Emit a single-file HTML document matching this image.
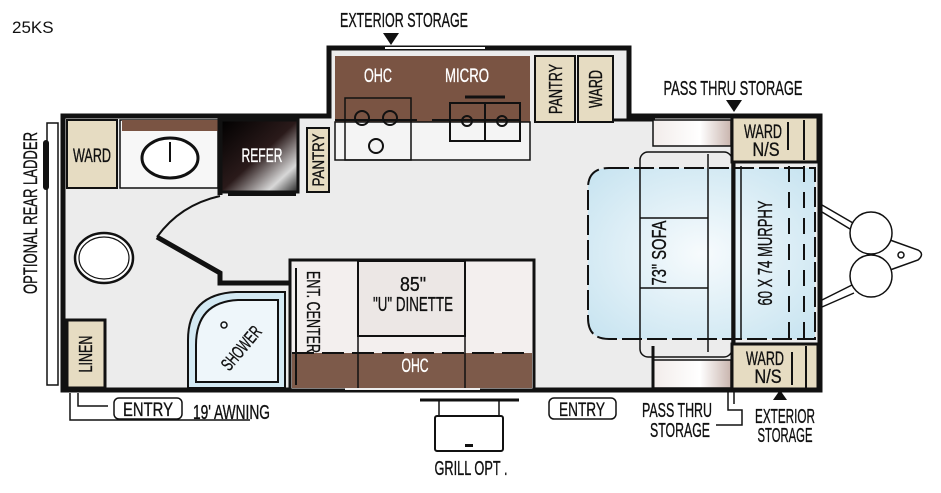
<!DOCTYPE html>
<html><head><meta charset="utf-8"><style>
html,body{margin:0;padding:0;background:#fff;}
svg{display:block;}
text{font-family:"Liberation Sans Narrow","Liberation Sans",sans-serif;fill:#111;stroke:#111;stroke-width:0.35;}
text.w{fill:#fff;stroke:#fff;}
</style></head><body>
<svg width="941" height="493" viewBox="0 0 941 493" xmlns="http://www.w3.org/2000/svg">
<defs>
<linearGradient id="ref" x1="0" y1="0" x2="1" y2="1"><stop offset="0" stop-color="#000"/><stop offset="0.5" stop-color="#2a1a1a"/><stop offset="0.8" stop-color="#d8d8d8"/><stop offset="1" stop-color="#222"/></linearGradient>
<radialGradient id="bed" cx="0.5" cy="0.5" r="0.7"><stop offset="0" stop-color="#f7fbfd"/><stop offset="1" stop-color="#c6e3f0"/></radialGradient>
<linearGradient id="cush" x1="0" y1="0" x2="1" y2="0"><stop offset="0" stop-color="#f2ecea"/><stop offset="0.6" stop-color="#fff"/><stop offset="1" stop-color="#c9b5ae"/></linearGradient>
</defs>
<text x="12" y="33" font-size="17" font-family="Liberation Sans" style="stroke-width:0">25KS</text>
<rect x="63" y="116" width="757" height="274" fill="#ececec"/>
<rect x="329" y="50" width="300" height="70" fill="#ececec"/>
<rect x="47" y="123" width="11" height="262" fill="#fff" stroke="#111" stroke-width="1.5"/>
<rect x="43" y="140" width="6" height="50" rx="3" fill="#111"/>
<text transform="translate(37,213) rotate(-90)" font-size="19" text-anchor="middle" textLength="162" lengthAdjust="spacingAndGlyphs">OPTIONAL REAR LADDER</text>
<path d="M63 116 H329 V48 H629 V116 H820 V390 H63 Z" fill="none" stroke="#111" stroke-width="5"/>
<line x1="385" y1="48" x2="485" y2="48" stroke="#fff" stroke-width="2"/>
<rect x="67" y="120" width="50" height="68" fill="#e6dcc2" stroke="#111" stroke-width="2"/>
<text x="92" y="162" font-size="19" text-anchor="middle" textLength="38" lengthAdjust="spacingAndGlyphs">WARD</text>
<rect x="120" y="120" width="98" height="68" fill="#f7f7f7" stroke="#111" stroke-width="1.5"/>
<rect x="122" y="120" width="96" height="11" fill="#7a5443"/>
<ellipse cx="170" cy="158" rx="28" ry="20" fill="#fff" stroke="#111" stroke-width="3"/>
<line x1="170" y1="142" x2="170" y2="162" stroke="#111" stroke-width="2"/>
<rect x="220" y="120" width="78" height="72" fill="url(#ref)" stroke="#111" stroke-width="3"/>
<text class="w" x="262" y="162" font-size="19" text-anchor="middle" textLength="41" lengthAdjust="spacingAndGlyphs">REFER</text>
<rect x="228" y="192" width="68" height="4" fill="#111"/>
<rect x="307" y="128" width="22" height="64" fill="#e6dcc2" stroke="#111" stroke-width="2"/>
<text transform="translate(324,160) rotate(-90)" font-size="17" text-anchor="middle" textLength="53" lengthAdjust="spacingAndGlyphs">PANTRY</text>
<line x1="220" y1="116" x2="220" y2="195" stroke="#111" stroke-width="5"/>
<path d="M220 196 Q180 205 157 237" fill="none" stroke="#111" stroke-width="2"/>
<path d="M157 237 L220 273 V283 H290" fill="none" stroke="#111" stroke-width="5"/>
<ellipse cx="104" cy="258" rx="29" ry="25" fill="#fff" stroke="#111" stroke-width="2.5"/>
<ellipse cx="104" cy="258" rx="25" ry="21" fill="none" stroke="#111" stroke-width="1.2"/>
<rect x="67" y="320" width="38" height="68" fill="#e6dcc2" stroke="#111" stroke-width="3"/>
<text transform="translate(92,354) rotate(-90)" font-size="18" text-anchor="middle" textLength="37" lengthAdjust="spacingAndGlyphs">LINEN</text>
<path d="M188 388 V340 Q188 294 236 292 H285 V388 Z" fill="#d3e9f3" stroke="#111" stroke-width="2"/>
<path d="M196 382 V345 Q196 302 238 300 H278 V382 Z" fill="#eef6fa" stroke="#111" stroke-width="2"/>
<circle cx="224" cy="325" r="3" fill="none" stroke="#111" stroke-width="1.5"/>
<text transform="translate(246,352) rotate(-50)" font-size="18" text-anchor="middle" textLength="52" lengthAdjust="spacingAndGlyphs">SHOWER</text>
<rect x="290" y="260" width="244" height="130" fill="#f3efee" stroke="#111" stroke-width="3"/>
<rect x="292" y="353" width="240" height="35" fill="#7d5a4a"/>
<line x1="292" y1="353" x2="532" y2="353" stroke="#111" stroke-width="2" stroke-dasharray="22,8"/>
<rect x="358" y="261" width="107" height="75" fill="#ece7e5" stroke="#111" stroke-width="2"/>
<line x1="358" y1="336" x2="358" y2="388" stroke="#111" stroke-width="1.5"/>
<line x1="465" y1="336" x2="465" y2="388" stroke="#111" stroke-width="1.5"/>
<text x="413" y="291" font-size="20" text-anchor="middle" textLength="26" lengthAdjust="spacingAndGlyphs">85"</text>
<text x="413" y="311" font-size="20" text-anchor="middle" textLength="80" lengthAdjust="spacingAndGlyphs">"U" DINETTE</text>
<text class="w" x="415" y="372" font-size="19" text-anchor="middle" textLength="27" lengthAdjust="spacingAndGlyphs">OHC</text>
<text transform="translate(307,271) rotate(90)" font-size="18" textLength="82" lengthAdjust="spacingAndGlyphs">ENT. CENTER</text>
<line x1="296" y1="268" x2="296" y2="385" stroke="#111" stroke-width="2"/>
<line x1="345" y1="389" x2="480" y2="389" stroke="#eee" stroke-width="2"/>
<rect x="335" y="56" width="195" height="68" fill="#7a5443"/>
<rect x="335" y="122" width="195" height="38" fill="#f4f4f4" stroke="#111" stroke-width="1.5"/>
<text class="w" x="378" y="82" font-size="19" text-anchor="middle" textLength="28" lengthAdjust="spacingAndGlyphs">OHC</text>
<text class="w" x="467" y="82" font-size="19" text-anchor="middle" textLength="44" lengthAdjust="spacingAndGlyphs">MICRO</text>
<rect x="345" y="98" width="66" height="62" fill="none" stroke="#111" stroke-width="1.5"/>
<line x1="335" y1="120" x2="417" y2="120" stroke="#111" stroke-width="2"/>
<line x1="432" y1="120" x2="520" y2="120" stroke="#111" stroke-width="2"/>
<g fill="none" stroke="#111" stroke-width="2">
<circle cx="362" cy="118" r="7"/><circle cx="390" cy="118" r="7"/><circle cx="376" cy="146" r="7"/>
<rect x="450" y="103" width="70" height="38"/>
<line x1="485" y1="103" x2="485" y2="141"/>
<circle cx="467" cy="121" r="5"/><circle cx="502" cy="121" r="5"/>
<line x1="465" y1="97" x2="505" y2="97" stroke-width="3"/>
</g>
<rect x="535" y="56" width="40" height="66" fill="#e6dcc2" stroke="#111" stroke-width="2"/>
<text transform="translate(562,89) rotate(-90)" font-size="18" text-anchor="middle" textLength="50" lengthAdjust="spacingAndGlyphs">PANTRY</text>
<rect x="578" y="56" width="35" height="66" fill="#e6dcc2" stroke="#111" stroke-width="2"/>
<text transform="translate(602,89) rotate(-90)" font-size="18" text-anchor="middle" textLength="38" lengthAdjust="spacingAndGlyphs">WARD</text>
<line x1="613" y1="120" x2="655" y2="120" stroke="#111" stroke-width="3"/>
<rect x="653" y="120" width="78" height="26" fill="url(#cush)" stroke="#111" stroke-width="1.5"/>
<rect x="653" y="360" width="78" height="28" fill="url(#cush)" stroke="#111" stroke-width="1.5"/>
<line x1="653" y1="346" x2="653" y2="390" stroke="#111" stroke-width="3"/>
<path d="M609 168 H815 V339 H609 Q588 339 588 318 V188 Q588 168 609 168 Z" fill="url(#bed)" stroke="#111" stroke-width="2" stroke-dasharray="20,5"/>
<rect x="640" y="152" width="92" height="205" rx="8" fill="none" stroke="#111" stroke-width="1.5"/>
<line x1="640" y1="218" x2="708" y2="218" stroke="#111" stroke-width="1.5"/>
<line x1="640" y1="288" x2="708" y2="288" stroke="#111" stroke-width="1.5"/>
<path d="M708 154 V352" stroke="#111" stroke-width="1.5"/>
<text transform="translate(666,253) rotate(-90)" font-size="20" text-anchor="middle" textLength="65" lengthAdjust="spacingAndGlyphs">73"  SOFA</text>
<line x1="734" y1="162" x2="734" y2="345" stroke="#111" stroke-width="3"/>
<line x1="741" y1="166" x2="741" y2="340" stroke="#111" stroke-width="1.5"/>
<line x1="789" y1="166" x2="789" y2="340" stroke="#111" stroke-width="2" stroke-dasharray="16,10"/>
<line x1="804" y1="166" x2="804" y2="340" stroke="#111" stroke-width="2" stroke-dasharray="16,10"/>
<text transform="translate(772,253) rotate(-90)" font-size="20" text-anchor="middle" textLength="105" lengthAdjust="spacingAndGlyphs">60 X 74 MURPHY</text>
<rect x="732" y="117" width="86" height="45" fill="#e6dcc2" stroke="#111" stroke-width="3"/>
<text x="763" y="138" font-size="19" text-anchor="middle" textLength="38" lengthAdjust="spacingAndGlyphs">WARD</text>
<text x="766" y="156" font-size="19" text-anchor="middle" textLength="27" lengthAdjust="spacingAndGlyphs">N/S</text>
<line x1="788" y1="122" x2="788" y2="150" stroke="#111" stroke-width="2"/>
<line x1="804" y1="120" x2="804" y2="160" stroke="#111" stroke-width="2"/>
<rect x="732" y="344" width="86" height="45" fill="#e6dcc2" stroke="#111" stroke-width="3"/>
<text x="765" y="365" font-size="19" text-anchor="middle" textLength="38" lengthAdjust="spacingAndGlyphs">WARD</text>
<text x="768" y="383" font-size="19" text-anchor="middle" textLength="27" lengthAdjust="spacingAndGlyphs">N/S</text>
<line x1="792" y1="352" x2="792" y2="385" stroke="#111" stroke-width="2"/>
<line x1="806" y1="346" x2="806" y2="388" stroke="#111" stroke-width="2"/>
<g fill="none" stroke="#111" stroke-width="1.5">
<path d="M822 205 L853 223 M822 212 L850 229"/>
<path d="M822 300 L852 285 M822 307 L854 293"/>
<path d="M890 240 L918 250 Q925 254 918 260 L890 270"/>
<circle cx="901" cy="255" r="3"/>
</g>
<circle cx="871" cy="233" r="21" fill="#fff" stroke="#111" stroke-width="1.5"/>
<circle cx="871" cy="276" r="21" fill="#fff" stroke="#111" stroke-width="1.5"/>
<text x="404" y="27" font-size="20" text-anchor="middle" textLength="128" lengthAdjust="spacingAndGlyphs">EXTERIOR  STORAGE</text>
<path d="M383 33 H399 L391 45 Z" fill="#111"/>
<text x="733" y="95" font-size="20" text-anchor="middle" textLength="139" lengthAdjust="spacingAndGlyphs">PASS THRU STORAGE</text>
<path d="M726 100 H742 L734 112 Z" fill="#111"/>
<path d="M70 393 V420 H250 M78 393 V406 H108" fill="none" stroke="#111" stroke-width="1.5"/>
<rect x="114" y="398" width="68" height="21" rx="5" fill="#fff" stroke="#111" stroke-width="1.5"/>
<text x="148" y="416" font-size="19" text-anchor="middle" textLength="50" lengthAdjust="spacingAndGlyphs">ENTRY</text>
<text x="193" y="419" font-size="20" textLength="77" lengthAdjust="spacingAndGlyphs">19' AWNING</text>
<line x1="420" y1="400" x2="519" y2="400" stroke="#111" stroke-width="3"/>
<line x1="439" y1="400" x2="439" y2="416" stroke="#111" stroke-width="1.5"/>
<line x1="499" y1="400" x2="499" y2="416" stroke="#111" stroke-width="1.5"/>
<rect x="435" y="416" width="68" height="35" rx="2" fill="#fff" stroke="#111" stroke-width="2"/>
<rect x="465" y="444" width="8" height="3" fill="#111"/>
<text x="471" y="475" font-size="20" text-anchor="middle" textLength="73" lengthAdjust="spacingAndGlyphs">GRILL OPT .</text>
<rect x="549" y="398" width="67" height="21" rx="5" fill="#fff" stroke="#111" stroke-width="1.5"/>
<text x="582" y="416" font-size="19" text-anchor="middle" textLength="46" lengthAdjust="spacingAndGlyphs">ENTRY</text>
<text x="677" y="417" font-size="20" text-anchor="middle" textLength="70" lengthAdjust="spacingAndGlyphs">PASS THRU</text>
<text x="680" y="437" font-size="20" text-anchor="middle" textLength="60" lengthAdjust="spacingAndGlyphs">STORAGE</text>
<path d="M728 392 V410 H742 V425 H716 M734 392 V404" fill="none" stroke="#111" stroke-width="1.5"/>
<path d="M773 400 H787 L780 390 Z" fill="#111"/>
<text x="785" y="423" font-size="20" text-anchor="middle" textLength="60" lengthAdjust="spacingAndGlyphs">EXTERIOR</text>
<text x="785" y="442" font-size="20" text-anchor="middle" textLength="55" lengthAdjust="spacingAndGlyphs">STORAGE</text>
</svg>
</body></html>
